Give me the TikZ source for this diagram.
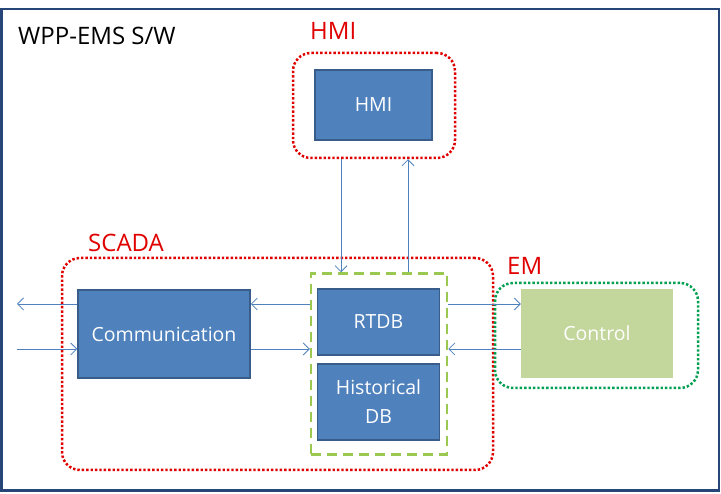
\documentclass[tikz,border=0pt]{standalone}
\usepackage{fontspec}
\setmainfont{Open Sans}
\usetikzlibrary{arrows.meta,positioning}
\definecolor{boxblue}{RGB}{79,129,189}
\definecolor{boxline}{RGB}{56,93,138}
\definecolor{framecol}{RGB}{38,70,120}
\definecolor{redlbl}{RGB}{224,0,0}
\definecolor{emgreen}{RGB}{0,160,80}
\definecolor{dbgreen}{RGB}{155,200,80}
\definecolor{ctrlfill}{RGB}{195,214,155}
\tikzset{
  blk/.style={draw=boxline,fill=boxblue,line width=1.5pt,text=white,font=\fontsize{19.5}{29}\selectfont,align=center,inner sep=0pt},
  redframe/.style={draw=redlbl,line width=2.5pt,dash pattern=on 2.4pt off 2pt,rounded corners=18pt,inner sep=0pt},
  grnframe/.style={draw=emgreen,line width=2.5pt,dash pattern=on 2.4pt off 2pt,rounded corners=18pt,inner sep=0pt},
  link/.style={draw=boxblue,line width=0.75pt,-{Straight Barb[length=6pt,width=12pt]}},
  tag/.style={text=redlbl,font=\fontsize{24}{26}\selectfont,anchor=base west,inner sep=0pt}
}
\begin{document}
\begin{tikzpicture}[x=1pt,y=-1pt]
\useasboundingbox (0,0) rectangle (721,494);
% frame of the whole software
\draw[framecol,line width=2.5pt] (1.5,9) rectangle (719,490.5);
\node[anchor=base west,inner sep=0pt,font=\fontsize{24}{26}\selectfont] (title) at (18,45) {WPP-EMS S/W};
% HMI group
\node[redframe,minimum width=162pt,minimum height=105pt] (hmiframe) at (374,105.5) {};
\node[tag] (hmitag) at (310,40) {HMI};
\node[blk,minimum width=117pt,minimum height=70pt] (hmi) at (373.5,105) {HMI};
% SCADA group
\node[redframe,minimum width=431pt,minimum height=212pt] (scadaframe) at (277.5,364) {};
\node[tag] (scadatag) at (88,252) {SCADA};
\node[blk,minimum width=172pt,minimum height=88pt] (comm) at (164,334) {Communication};
\node[draw=dbgreen,line width=2.5pt,dash pattern=on 10pt off 6pt,minimum width=136pt,minimum height=181pt,inner sep=0pt] (dbframe) at (379,364) {};
\node[blk,minimum width=122pt,minimum height=66pt] (rtdb) at (378.5,322) {RTDB};
\node[blk,minimum width=122pt,minimum height=76pt] (hist) at (378.5,402) {Historical\\DB};
% EM group
\node[grnframe,minimum width=203pt,minimum height=105pt] (emframe) at (596.5,335.5) {};
\node[tag] (emtag) at (507,275) {EM};
\node[fill=ctrlfill,text=white,font=\fontsize{19.5}{23}\selectfont,minimum width=152pt,minimum height=89pt,inner sep=0pt] (ctrl) at (597,333.5) {Control};
% connectors
\coordinate (extout) at (17,304);
\coordinate (extin) at (17,349);
\draw[link] (comm.west |- extout) -- (extout);
\draw[link] (extin) -- (comm.west |- extin);
\draw[link] (dbframe.west |- 0,304) -- (comm.east |- 0,304);
\draw[link] (comm.east |- 0,349) -- (dbframe.west |- 0,349);
\draw[link] (dbframe.east |- 0,304) -- (ctrl.west |- 0,304);
\draw[link] (ctrl.west |- 0,349) -- (dbframe.east |- 0,349);
\draw[link] (hmiframe.south -| 341,0) -- (dbframe.north -| 341,0);
\draw[link] (dbframe.north -| 408,0) -- (hmiframe.south -| 408,0);
\end{tikzpicture}
\end{document}
